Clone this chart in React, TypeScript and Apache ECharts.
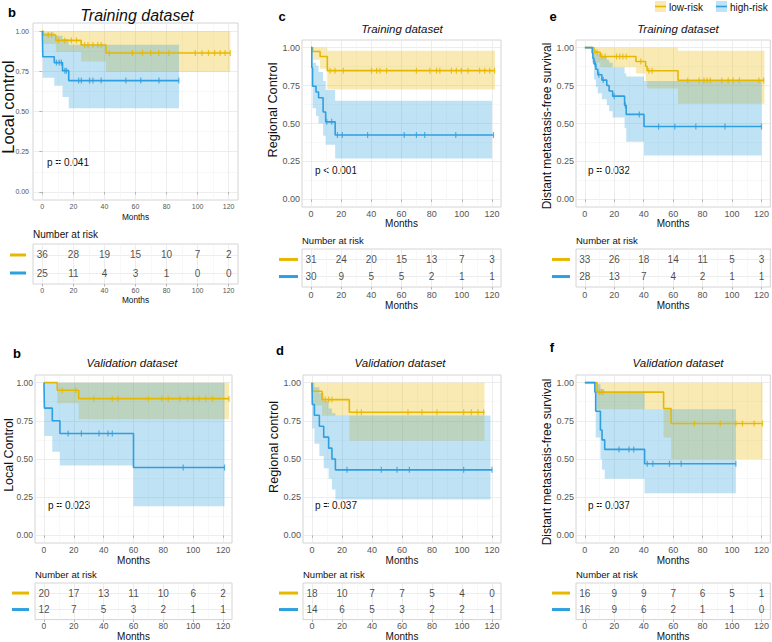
import React, { useEffect, useRef } from 'react';
import * as echarts from 'echarts';

const YEL = '#E7B800';
const BLU = '#2E9FDF';
const YEL_A = 'rgba(231,184,0,0.3)';
const BLU_A = 'rgba(46,159,223,0.3)';
const FF = '"Liberation Sans", Arial, Helvetica, sans-serif';

const MAJ_X = [0, 20, 40, 60, 80, 100, 120];
const MIN_X = [10, 30, 50, 70, 90, 110];
const MAJ_Y = [0, 0.25, 0.5, 0.75, 1];
const MIN_Y = [0.125, 0.375, 0.625, 0.875];
const riskTimes = [0, 20, 40, 60, 80, 100, 120];

// ---- b: Training, local control
const trLC_lowSteps = [[0, 1], [0.6, 0.975], [8.7, 0.942], [25, 0.913], [41, 0.864], [121, 0.864]];
const trLC_lowCI = [[0, 1, 1], [0.6, 0.92, 1], [8.7, 0.87, 1], [25, 0.81, 1], [41, 0.745, 1], [121, 0.745, 1]];
const trLC_lowCens = [3.8, 6, 10.2, 14.5, 18.7, 22, 27.2, 29.4, 32.6, 35.7, 37.9, 43.2, 58, 64.5, 69.8, 75, 81.5, 98.5, 102.8, 107, 111, 114.5, 117.7, 121];
const trLC_highSteps = [[0, 1], [0.3, 0.84], [7.7, 0.804], [13, 0.754], [17, 0.692], [88, 0.692]];
const trLC_highCI = [[0, 1, 1], [0.3, 0.71, 0.99], [7.7, 0.66, 0.97], [13, 0.59, 0.95], [17, 0.52, 0.915], [88, 0.52, 0.915]];
const trLC_highCens = [9.1, 10.9, 12.3, 14.5, 15.5, 23.4, 25.1, 30.4, 32.6, 37.9, 53.8, 63.4, 75.1, 87.9];
const trLC_riskLow = [36, 28, 19, 15, 10, 7, 2];
const trLC_riskHigh = [25, 11, 4, 3, 1, 0, 0];

// ---- c: Training, regional control
const trRC_lowSteps = [[0, 1], [1, 0.974], [6, 0.941], [10.8, 0.848], [121.8, 0.848]];
const trRC_lowCI = [[0, 1, 1], [1, 0.92, 1], [6, 0.86, 1], [10.8, 0.724, 0.98], [122, 0.724, 0.98]];
const trRC_lowCens = [12.6, 15.9, 21.4, 40.1, 43.5, 45.7, 50.1, 69.9, 78.8, 83.2, 85.4, 93.1, 96.4, 99.7, 104.1, 111.8, 115.2, 118.5, 121.8];
const trRC_highSteps = [[0, 1], [0.5, 0.867], [1, 0.745], [3.3, 0.707], [5, 0.67], [8, 0.576], [9.7, 0.511], [16, 0.424], [121, 0.424]];
const trRC_highCI = [[0, 1, 1], [0.5, 0.74, 0.99], [1, 0.6, 0.9], [3.3, 0.55, 0.88], [5, 0.5, 0.84], [8, 0.42, 0.78], [9.7, 0.36, 0.72], [16, 0.27, 0.65], [120, 0.27, 0.65]];
const trRC_highCens = [10.4, 13.7, 17.5, 20.7, 37.5, 61.8, 69.9, 75.4, 96, 121];
const trRC_riskLow = [31, 24, 20, 15, 13, 7, 3];
const trRC_riskHigh = [30, 9, 5, 5, 2, 1, 1];

// ---- e: Training, distant metastasis-free survival
const trDM_lowSteps = [[0, 1], [6.2, 0.969], [10.5, 0.941], [34.7, 0.908], [41.3, 0.877], [42.3, 0.847], [63.3, 0.784], [121.5, 0.784]];
const trDM_lowCI = [[0, 1, 1], [6.2, 0.9, 1], [10.5, 0.87, 1], [34.7, 0.83, 1], [41.3, 0.78, 1], [42.3, 0.73, 1], [63.3, 0.63, 0.98], [122, 0.63, 0.98]];
const trDM_lowCens = [8.4, 11.6, 13.8, 21.5, 23.7, 25.9, 28.1, 38, 43.5, 45.7, 69.9, 77.6, 80.9, 83.1, 85.3, 93, 97.4, 100.7, 105, 118.2, 121.5];
const trDM_highSteps = [[0, 1], [5, 0.964], [5.5, 0.929], [6.2, 0.893], [7.5, 0.857], [8.8, 0.821], [11.6, 0.786], [14.9, 0.75], [16.5, 0.714], [18.9, 0.68], [27, 0.62], [28.1, 0.56], [40.2, 0.48], [120, 0.48]];
const trDM_highCI = [[0, 1, 1], [5, 0.9, 1], [6.2, 0.79, 0.99], [7.5, 0.74, 0.98], [8.8, 0.7, 0.96], [11.6, 0.66, 0.94], [14.9, 0.62, 0.92], [16.5, 0.58, 0.9], [18.9, 0.54, 0.87], [27, 0.47, 0.83], [28.1, 0.38, 0.81], [40.2, 0.29, 0.78], [120, 0.29, 0.78]];
const trDM_highCens = [7, 9.5, 12.5, 20, 27.5, 37, 50.1, 61.1, 75.4, 95.2, 120];
const trDM_riskLow = [33, 26, 18, 14, 11, 5, 3];
const trDM_riskHigh = [28, 13, 7, 4, 2, 1, 1];

// ---- b: Validation, local control
const vaLC_lowSteps = [[0, 1], [8.9, 0.95], [23.3, 0.895], [124, 0.895]];
const vaLC_lowCI = [[0, 1, 1], [8.9, 0.865, 1], [23.3, 0.76, 1], [124, 0.76, 1]];
const vaLC_lowCens = [12.2, 21.3, 33.3, 45.8, 49.6, 70, 78.9, 83.3, 91.1, 96.2, 100.2, 104, 108.4, 112.9, 124];
const vaLC_highSteps = [[0, 1], [0.3, 0.833], [5.6, 0.75], [10.7, 0.667], [60, 0.444], [121, 0.444]];
const vaLC_highCI = [[0, 1, 1], [0.3, 0.65, 1], [5.6, 0.548, 1], [10.7, 0.457, 1], [60, 0.19, 1], [121, 0.19, 1]];
const vaLC_highCens = [16.2, 25.1, 36.9, 42.9, 45.8, 93.3, 121];
const vaLC_riskLow = [20, 17, 13, 11, 10, 6, 2];
const vaLC_riskHigh = [12, 7, 5, 3, 2, 1, 1];

// ---- d: Validation, regional control
const vaRC_lowSteps = [[0, 1], [0.4, 0.944], [6.7, 0.889], [24.9, 0.806], [115, 0.806]];
const vaRC_lowCI = [[0, 1, 1], [0.4, 0.85, 1], [6.7, 0.784, 1], [24.9, 0.62, 1], [115, 0.62, 1]];
const vaRC_lowCens = [8.9, 11.1, 13.3, 30, 32.9, 64, 73.3, 83.3, 101.1, 106.2, 110.7, 114.4];
const vaRC_highSteps = [[0, 1], [0.2, 0.857], [1.6, 0.786], [4.9, 0.714], [7.8, 0.643], [11.1, 0.571], [13.3, 0.5], [15.6, 0.429], [120, 0.429]];
const vaRC_highCI = [[0, 1, 1], [0.2, 0.7, 1], [1.6, 0.6, 0.97], [4.9, 0.52, 0.93], [7.8, 0.44, 0.88], [11.1, 0.37, 0.83], [13.3, 0.3, 0.8], [15.6, 0.235, 0.785], [119, 0.235, 0.785]];
const vaRC_highCens = [23.3, 46.2, 56.7, 64.9, 101.1, 120];
const vaRC_riskLow = [18, 10, 7, 7, 5, 4, 0];
const vaRC_riskHigh = [14, 6, 5, 3, 2, 2, 1];

// ---- f: Validation, distant metastasis-free survival
const vaDM_lowSteps = [[0, 1], [8.3, 0.938], [53.5, 0.831], [58.6, 0.732], [120.7, 0.732]];
const vaDM_lowCI = [[0, 1, 1], [8.3, 0.825, 1], [53.5, 0.64, 1], [58.6, 0.5, 1], [120.7, 0.5, 1]];
const vaDM_lowCens = [9.7, 11.3, 12.4, 74.4, 92, 102.6, 107.1, 115, 120.7];
const vaDM_highSteps = [[0, 1], [6.8, 0.938], [7.4, 0.813], [10.6, 0.69], [11.7, 0.625], [13.5, 0.563], [40.6, 0.469], [102.6, 0.469]];
const vaDM_highCI = [[0, 1, 1], [6.8, 0.82, 1], [7.4, 0.64, 0.99], [10.6, 0.5, 0.96], [11.7, 0.43, 0.95], [13.5, 0.37, 0.94], [40.6, 0.275, 0.825], [102.6, 0.275, 0.825]];
const vaDM_highCens = [23.2, 30, 33.2, 42.4, 46.2, 57.5, 65.4, 102.6];
const vaDM_riskLow = [16, 9, 9, 7, 6, 5, 1];
const vaDM_riskHigh = [16, 9, 6, 2, 1, 1, 0];

const panels = [
  { letter: 'b', title: 'Training dataset', ylab: 'Local control', p: 'p = 0.041',
    low: { steps: trLC_lowSteps, ci: trLC_lowCI, cens: trLC_lowCens }, high: { steps: trLC_highSteps, ci: trLC_highCI, cens: trLC_highCens },
    riskLow: trLC_riskLow, riskHigh: trLC_riskHigh },
  { letter: 'c', title: 'Training dataset', ylab: 'Regional Control', p: 'p < 0.001',
    low: { steps: trRC_lowSteps, ci: trRC_lowCI, cens: trRC_lowCens }, high: { steps: trRC_highSteps, ci: trRC_highCI, cens: trRC_highCens },
    riskLow: trRC_riskLow, riskHigh: trRC_riskHigh },
  { letter: 'e', title: 'Training dataset', ylab: 'Distant metastasis-free survival', p: 'p = 0.032',
    low: { steps: trDM_lowSteps, ci: trDM_lowCI, cens: trDM_lowCens }, high: { steps: trDM_highSteps, ci: trDM_highCI, cens: trDM_highCens },
    riskLow: trDM_riskLow, riskHigh: trDM_riskHigh },
  { letter: 'b', title: 'Validation dataset', ylab: 'Local Control', p: 'p = 0.023',
    low: { steps: vaLC_lowSteps, ci: vaLC_lowCI, cens: vaLC_lowCens }, high: { steps: vaLC_highSteps, ci: vaLC_highCI, cens: vaLC_highCens },
    riskLow: vaLC_riskLow, riskHigh: vaLC_riskHigh },
  { letter: 'd', title: 'Validation dataset', ylab: 'Regional control', p: 'p = 0.037',
    low: { steps: vaRC_lowSteps, ci: vaRC_lowCI, cens: vaRC_lowCens }, high: { steps: vaRC_highSteps, ci: vaRC_highCI, cens: vaRC_highCens },
    riskLow: vaRC_riskLow, riskHigh: vaRC_riskHigh },
  { letter: 'f', title: 'Validation dataset', ylab: 'Distant metastasis-free survival', p: 'p = 0.037',
    low: { steps: vaDM_lowSteps, ci: vaDM_lowCI, cens: vaDM_lowCens }, high: { steps: vaDM_highSteps, ci: vaDM_highCI, cens: vaDM_highCens },
    riskLow: vaDM_riskLow, riskHigh: vaDM_riskHigh },
];

const base = { tickFs: 9, nameFs: 10, kmLM: 2, kmNG: 11, tbLM: 3.5, tbNG: 11, yTicks: false, yLM: 2, titleFs: 11.5, ylabFs: 12.75, pFs: 10, nrFs: 9.5, numFs: 10 };
const layouts = [
  { ...base, km: { left: 33, top: 23, width: 205, height: 177 }, tb: { left: 33, top: 244, width: 205, height: 40 },
    tickFs: 7, nameFs: 8.3, kmLM: 3, kmNG: 13, tbLM: 3, tbNG: 12, yTicks: true, yLM: 4, titleFs: 16,
    titleXY: [137, 15], letterXY: [12, 12], ylabXY: [8, 107], ylabFs: 16.5, pXY: [47, 162], nrXY: [33, 234], nrFs: 10, keyW: 16, keyM: 7 },
  { ...base, km: { left: 302, top: 40, width: 199, height: 167 }, tb: { left: 302, top: 249, width: 199, height: 38 },
    titleXY: [402, 29], letterXY: [282, 16], ylabXY: [272, 110], pXY: [315, 170], nrXY: [302, 240], keyW: 19, keyM: 4 },
  { ...base, km: { left: 576, top: 40, width: 195, height: 167 }, tb: { left: 576, top: 249, width: 195, height: 38 },
    titleXY: [678, 29], letterXY: [553, 16], ylabXY: [547, 126], ylabFs: 12, pXY: [588, 170], nrXY: [576, 240], keyW: 18, keyM: 6 },
  { ...base, km: { left: 35, top: 375, width: 197, height: 168 }, tb: { left: 35, top: 583, width: 197, height: 39 },
    kmLM: 2.5, tbLM: 1.5, tbNG: 10, tickFs: 8.5,
    titleXY: [132, 363], letterXY: [17, 353], ylabXY: [9, 455], ylabFs: 12.5, pXY: [48, 505], nrXY: [35, 574], keyW: 17, keyM: 6 },
  { ...base, km: { left: 303, top: 375, width: 198, height: 168 }, tb: { left: 303, top: 583, width: 198, height: 39 },
    kmLM: 2.5, tbLM: 1.5, tbNG: 10,
    titleXY: [400, 363], letterXY: [280, 350], ylabXY: [273, 447], pXY: [315, 505], nrXY: [303, 574], keyW: 19, keyM: 5 },
  { ...base, km: { left: 576, top: 375, width: 195, height: 168 }, tb: { left: 576, top: 583, width: 195, height: 39 },
    kmLM: 2.5, tbLM: 1.5, tbNG: 10,
    titleXY: [678, 363], letterXY: [552, 347], ylabXY: [547, 462], ylabFs: 12, pXY: [588, 505], nrXY: [576, 574], keyW: 18, keyM: 6 },
];

function survAt(steps: number[][], t: number) {
  let s = 1;
  for (const [tt, v] of steps) if (tt <= t) s = v;
  return s;
}

function buildOption() {
  const grid: any[] = [];
  const xAxis: any[] = [];
  const yAxis: any[] = [];
  const series: any[] = [];
  const graphic: any[] = [];

  const majorX = (g: number, L: any, lm: number, ng: number) => ({
    type: 'value', gridIndex: g, min: -6, max: 126,
    axisLine: { show: false },
    axisTick: { show: true, customValues: MAJ_X, length: 2.5, lineStyle: { color: '#b3b3b3' } },
    axisLabel: { customValues: MAJ_X, fontSize: L.tickFs, color: '#555', margin: lm, fontFamily: FF },
    splitLine: { show: true, lineStyle: { color: '#e8e8e8', width: 0.8 } },
    name: 'Months', nameLocation: 'middle', nameGap: ng,
    nameTextStyle: { fontSize: L.nameFs, color: '#111', fontFamily: FF },
  });
  const minorX = (g: number) => ({
    type: 'value', gridIndex: g, min: -6, max: 126,
    axisLine: { show: false },
    axisTick: { show: false, customValues: MIN_X },
    axisLabel: { show: false, customValues: MIN_X },
    splitLine: { show: true, lineStyle: { color: '#f3f3f3', width: 0.6 } },
  });

  panels.forEach((pd, i) => {
    const L: any = layouts[i];
    const gKm = grid.length;
    grid.push({ ...L.km, show: true, borderColor: '#d4d4d4', borderWidth: 1, backgroundColor: 'transparent' });
    const gTb = grid.length;
    grid.push({ ...L.tb, show: true, borderColor: '#d4d4d4', borderWidth: 1, backgroundColor: 'transparent' });

    const xKm = xAxis.length;
    xAxis.push(majorX(gKm, L, L.kmLM, L.kmNG));
    xAxis.push(minorX(gKm));
    const xTb = xAxis.length;
    xAxis.push(majorX(gTb, L, L.tbLM, L.tbNG));
    xAxis.push(minorX(gTb));

    const yKm = yAxis.length;
    yAxis.push({
      type: 'value', gridIndex: gKm, min: -0.05, max: 1.05,
      axisLine: { show: false },
      axisTick: { show: L.yTicks, customValues: MAJ_Y, length: 3, lineStyle: { color: '#b3b3b3' } },
      axisLabel: { customValues: MAJ_Y, fontSize: L.tickFs, color: '#555', margin: L.yLM, fontFamily: FF,
        formatter: (v: number) => v.toFixed(2) },
      splitLine: { show: true, lineStyle: { color: '#e8e8e8', width: 0.8 } },
    });
    yAxis.push({
      type: 'value', gridIndex: gKm, min: -0.05, max: 1.05,
      axisLine: { show: false },
      axisTick: { show: false, customValues: MIN_Y },
      axisLabel: { show: false, customValues: MIN_Y },
      splitLine: { show: true, lineStyle: { color: '#f3f3f3', width: 0.6 } },
    });
    const yTb = yAxis.length;
    yAxis.push({
      type: 'value', gridIndex: gTb, min: 0.39, max: 2.61,
      axisLine: { show: false },
      axisTick: { show: false, customValues: [1, 2] },
      axisLabel: {
        customValues: [1, 2], margin: L.keyM,
        formatter: (v: number) => (v > 1.5 ? '{lo| }' : '{hi| }'),
        rich: {
          lo: { width: L.keyW, height: 3, backgroundColor: YEL, fontSize: 3, lineHeight: 3 },
          hi: { width: L.keyW, height: 3, backgroundColor: BLU, fontSize: 3, lineHeight: 3 },
        },
      },
      splitLine: { show: true, lineStyle: { color: '#e8e8e8', width: 0.8 } },
    });

    const groups = [
      { c: pd.low, color: YEL, fill: YEL_A, risk: pd.riskLow, row: 2 },
      { c: pd.high, color: BLU, fill: BLU_A, risk: pd.riskHigh, row: 1 },
    ];
    // confidence bands: one stepped polygon per curve, drawn through the axes
    groups.forEach((g) => {
      const n = g.c.ci.length;
      series.push({
        type: 'custom', xAxisIndex: xKm, yAxisIndex: yKm, silent: true, z: 1,
        data: g.c.ci,
        encode: { x: 0, y: [1, 2] },
        clip: true,
        renderItem: (params: any, api: any) => {
          if (params.dataIndex !== 0) return null;
          const up: number[][] = [];
          const lo: number[][] = [];
          for (let k = 0; k < n - 1; k++) {
            const t0 = api.value(0, k), t1 = api.value(0, k + 1);
            const l = api.value(1, k), h = api.value(2, k);
            up.push(api.coord([t0, h]), api.coord([t1, h]));
            lo.push(api.coord([t0, l]), api.coord([t1, l]));
          }
          const pts = up.concat(lo.reverse());
          return { type: 'polygon', shape: { points: pts }, style: { fill: g.fill, stroke: 'none' } };
        },
      });
    });
    // survival step curves
    groups.forEach((g) => {
      series.push({
        type: 'line', xAxisIndex: xKm, yAxisIndex: yKm, step: 'end', silent: true,
        data: g.c.steps, symbol: 'none', lineStyle: { color: g.color, width: 1.6 }, itemStyle: { color: g.color }, z: 3,
      });
    });
    // censor marks
    groups.forEach((g) => {
      series.push({
        type: 'scatter', xAxisIndex: xKm, yAxisIndex: yKm, silent: true,
        data: g.c.cens.map((t) => [t, survAt(g.c.steps, t)]),
        symbol: 'rect', symbolSize: [1.2, 6], itemStyle: { color: g.color }, z: 4,
      });
    });
    // risk table numbers
    groups.forEach((g) => {
      series.push({
        type: 'scatter', xAxisIndex: xTb, yAxisIndex: yTb, silent: true,
        data: riskTimes.map((t, j) => [t, g.row, g.risk[j]]),
        symbol: 'circle', symbolSize: 1, itemStyle: { color: 'rgba(0,0,0,0)' },
        label: { show: true, position: 'inside', formatter: (p: any) => String(p.value[2]),
          fontSize: L.numFs, color: '#1a1a1a', fontFamily: FF },
        z: 4,
      });
    });

    // texts
    graphic.push({ type: 'text', x: L.titleXY[0], y: L.titleXY[1], silent: true,
      style: { text: pd.title, fontSize: L.titleFs, fontStyle: 'italic', fontFamily: FF, fill: '#111', align: 'center', verticalAlign: 'middle' } });
    graphic.push({ type: 'text', x: L.letterXY[0], y: L.letterXY[1], silent: true,
      style: { text: pd.letter, fontSize: 13, fontWeight: 'bold', fontFamily: FF, fill: '#000', align: 'center', verticalAlign: 'middle' } });
    graphic.push({ type: 'text', x: L.ylabXY[0], y: L.ylabXY[1], rotation: Math.PI / 2, silent: true,
      style: { text: pd.ylab, fontSize: L.ylabFs, fontFamily: FF, fill: '#111', align: 'center', verticalAlign: 'middle' } });
    graphic.push({ type: 'text', x: L.pXY[0], y: L.pXY[1], silent: true,
      style: { text: pd.p, fontSize: L.pFs, fontFamily: FF, fill: '#111', align: 'left', verticalAlign: 'middle' } });
    graphic.push({ type: 'text', x: L.nrXY[0], y: L.nrXY[1], silent: true,
      style: { text: 'Number at risk', fontSize: L.nrFs, fontFamily: FF, fill: '#111', align: 'left', verticalAlign: 'middle' } });
  });

  // top legend
  const legendItems = [
    { label: 'low-risk', color: YEL, fill: YEL_A, x: 655 },
    { label: 'high-risk', color: BLU, fill: BLU_A, x: 716 },
  ];
  legendItems.forEach((it) => {
    graphic.push({ type: 'rect', x: it.x, y: 1, shape: { x: 0, y: 0, width: 11, height: 11 }, silent: true, style: { fill: it.fill } });
    graphic.push({ type: 'line', silent: true, shape: { x1: it.x, y1: 6.5, x2: it.x + 11, y2: 6.5 }, style: { stroke: it.color, lineWidth: 1.6 } });
    graphic.push({ type: 'text', x: it.x + 14, y: 7, silent: true,
      style: { text: it.label, fontSize: 10, fontFamily: FF, fill: '#111', align: 'left', verticalAlign: 'middle' } });
  });

  return {
    animation: false,
    backgroundColor: '#ffffff',
    textStyle: { fontFamily: FF },
    grid, xAxis, yAxis, series, graphic,
  };
}

export default function App() {
  const ref = useRef<HTMLDivElement>(null);
  useEffect(() => {
    if (!ref.current) return;
    const chart = echarts.init(ref.current, null, { renderer: 'svg' });
    chart.setOption(buildOption() as any);
    return () => chart.dispose();
  }, []);
  return <div ref={ref} style={{ position: 'fixed', left: 0, top: 0, width: 772, height: 642, background: '#fff' }} />;
}
